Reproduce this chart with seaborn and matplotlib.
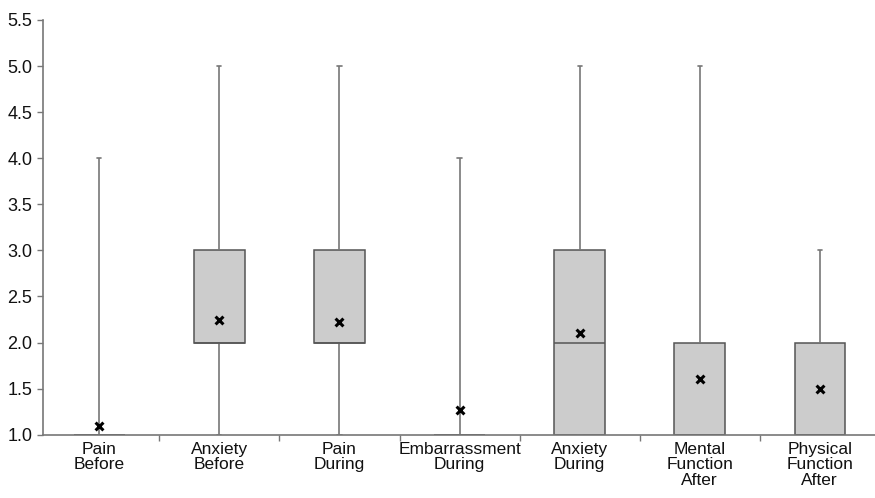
import pandas as pd
import matplotlib
matplotlib.use("Agg")
import matplotlib.pyplot as plt
from matplotlib.ticker import MultipleLocator, FixedLocator
import seaborn as sns

# Five-number summaries (min, Q1, median, Q3, max)
categories = ["Pain\nBefore", "Anxiety\nBefore", "Pain\nDuring", "Embarrassment\nDuring",
              "Anxiety\nDuring", "Mental\nFunction\nAfter", "Physical\nFunction\nAfter"]
minimum = [1, 1, 1, 1, 1, 1, 1]
q1 = [1, 2, 2, 1, 1, 1, 1]
median = [1, 2, 2, 1, 2, 1, 1]
q3 = [1, 3, 3, 1, 3, 2, 2]
maximum = [4, 5, 5, 4, 5, 5, 3]
means = [1.10, 2.25, 2.22, 1.27, 2.10, 1.60, 1.50]

# with five values the 25/50/75 percentiles fall exactly on Q1/median/Q3
rows = []
for i, cat in enumerate(categories):
    for v in (minimum[i], q1[i], median[i], q3[i], maximum[i]):
        rows.append({"categoria": cat, "valor": v})
df = pd.DataFrame(rows)
df_means = pd.DataFrame({"categoria": categories, "media": means})

sns.set_style("white")
plt.rcParams['font.family'] = ['Liberation Sans', 'DejaVu Sans']

fig = plt.figure(figsize=(8.75, 4.98), dpi=100)
ax = fig.add_axes([0.049, 0.127, 0.951, 0.833])

sns.boxplot(data=df, x="categoria", y="valor", order=categories, whis=(0, 100),
            width=0.42, color="#cccccc", linecolor="#555555", linewidth=1.1,
            fliersize=0, ax=ax,
            boxprops=dict(facecolor="#cccccc", edgecolor="#555555"),
            whiskerprops=dict(color="#777777", linewidth=1.2),
            capprops=dict(color="#777777", linewidth=1.2),
            medianprops=dict(color="#555555", linewidth=1.1),
            capwidths=0.035)

sns.scatterplot(data=df_means, x="categoria", y="media", marker="x", color="black",
                s=32, linewidth=2.2, zorder=5, ax=ax)

ax.set_xlim(-0.47, 6.46)
ax.set_ylim(1.0, 5.5)
ax.yaxis.set_major_locator(MultipleLocator(0.5))
ax.yaxis.set_major_formatter(plt.FuncFormatter(lambda v, p: f"{v:.1f}"))
ax.set_xlabel("")
ax.set_ylabel("")

# ticks between categories, labels centred under boxes
ax.xaxis.set_minor_locator(FixedLocator([i + 0.5 for i in range(6)]))
ax.tick_params(axis="x", which="major", length=0, pad=5, labelsize=12.5, labelcolor="#111111")
ax.tick_params(axis="x", which="minor", length=4, color="#777777", width=1, bottom=True)
ax.tick_params(axis="y", length=4, color="#777777", width=1, labelsize=13, left=True,
               labelcolor="#111111")
for lab in ax.get_xticklabels():
    lab.set_linespacing(1.05)

sns.despine(ax=ax)
for s in ("left", "bottom"):
    ax.spines[s].set_color("#777777")
    ax.spines[s].set_linewidth(1.2)

plt.savefig("out.png", dpi=100)
